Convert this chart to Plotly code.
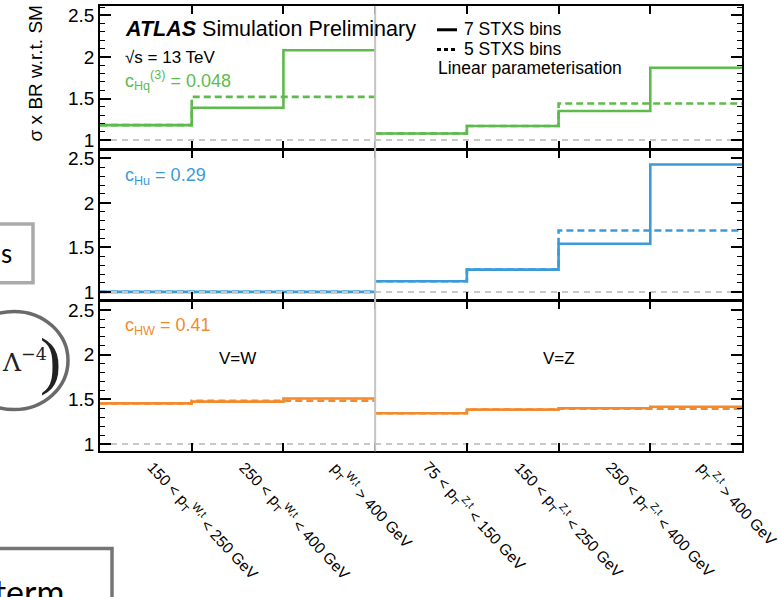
import plotly.graph_objects as go
from plotly.subplots import make_subplots

W, H = 778, 597
def X(px): return px / W
def Y(py): return 1 - py / H

# ---------------- data ----------------
bin_edges = [0, 1, 2, 3, 4, 5, 6, 7]
w_labels = ["150 < p<sub>T</sub><sup>W,t</sup> < 250 GeV",
            "250 < p<sub>T</sub><sup>W,t</sup> < 400 GeV",
            "p<sub>T</sub><sup>W,t</sup> > 400 GeV"]
z_labels = ["75 < p<sub>T</sub><sup>Z,t</sup> < 150 GeV",
            "150 < p<sub>T</sub><sup>Z,t</sup> < 250 GeV",
            "250 < p<sub>T</sub><sup>Z,t</sup> < 400 GeV",
            "p<sub>T</sub><sup>Z,t</sup> > 400 GeV"]

# cHq(3) = 0.048
hq3_w_7bins = [1.18, 1.39, 2.08]
hq3_w_5bins = [1.18, 1.52, 1.52]
hq3_z_7bins = [1.08, 1.17, 1.35, 1.87]
hq3_z_5bins = [1.08, 1.17, 1.44, 1.44]
# cHu = 0.29
hu_w_7bins = [1.0, 1.0, 1.0]
hu_w_5bins = [1.0, 1.0, 1.0]
hu_z_7bins = [1.12, 1.25, 1.54, 2.43]
hu_z_5bins = [1.12, 1.25, 1.69, 1.69]
# cHW = 0.41
hw_w_7bins = [1.455, 1.475, 1.51]
hw_w_5bins = [1.455, 1.485, 1.485]
hw_z_7bins = [1.345, 1.385, 1.40, 1.418]
hw_z_5bins = [1.345, 1.385, 1.395, 1.395]

sm_level = 1.0

LW = 1.5
panels = [
    dict(name="c<sub>Hq</sub><sup>(3)</sup> = 0.048", color="#5dbb4c",
         w7=hq3_w_7bins, w5=hq3_w_5bins, z7=hq3_z_7bins, z5=hq3_z_5bins,
         rng=[0.893, 2.613], dom=[Y(149 - LW / 2), Y(4)]),
    dict(name="c<sub>Hu</sub> = 0.29", color="#3b9bd9",
         w7=hu_w_7bins, w5=hu_w_5bins, z7=hu_z_7bins, z5=hu_z_5bins,
         rng=[0.912, 2.588], dom=[Y(301 - LW / 2), Y(149 + LW / 2)]),
    dict(name="c<sub>HW</sub> = 0.41", color="#f28a2e",
         w7=hw_w_7bins, w5=hw_w_5bins, z7=hw_z_7bins, z5=hw_z_5bins,
         rng=[0.919, 2.600], dom=[Y(453), Y(301 + LW / 2)]),
]

FONT = "Liberation Sans, Arial, Helvetica, sans-serif"

fig = make_subplots(rows=3, cols=1, shared_xaxes=True, vertical_spacing=0)

def step(vals):
    return vals + [vals[-1]]

for i, p in enumerate(panels, start=1):
    xw = bin_edges[0:4]
    xz = bin_edges[3:8]
    for xs, vals in ((xw, p["w7"]), (xz, p["z7"])):
        fig.add_trace(go.Scatter(x=xs, y=step(vals), mode="lines", line_shape="hv",
                                 line=dict(color=p["color"], width=2.6),
                                 showlegend=False, hoverinfo="skip"), row=i, col=1)
    for xs, vals in ((xw, p["w5"]), (xz, p["z5"])):
        fig.add_trace(go.Scatter(x=xs, y=step(vals), mode="lines", line_shape="hv",
                                 line=dict(color=p["color"], width=2.6, dash="7px,4px"),
                                 showlegend=False, hoverinfo="skip"), row=i, col=1)
    fig.add_trace(go.Scatter(x=[bin_edges[0], bin_edges[-1]], y=[sm_level, sm_level],
                             mode="lines", line=dict(color="#c8c8c8", width=2, dash="6px,5px"),
                             showlegend=False, hoverinfo="skip"), row=i, col=1)

axis_common = dict(showline=True, linecolor="black", linewidth=LW, mirror="ticks",
                   ticks="inside", tickcolor="black", tickwidth=1.5,
                   showgrid=False, zeroline=False)

for i, p in enumerate(panels, start=1):
    xa = "xaxis" if i == 1 else f"xaxis{i}"
    ya = "yaxis" if i == 1 else f"yaxis{i}"
    fig.layout[xa].update(range=[0, 7], domain=[X(100), X(742)],
                          tickvals=bin_edges[1:-1], ticklen=8,
                          showticklabels=False, **axis_common)
    fig.layout[ya].update(range=p["rng"], domain=p["dom"], dtick=0.5, tick0=0,
                          ticklen=11,
                          minor=dict(dtick=0.1, tick0=0, ticklen=5, ticks="inside",
                                     tickcolor="black", tickwidth=1.2),
                          tickfont=dict(size=19, color="black", family=FONT),
                          **axis_common)

ann = []
# y-axis title
ann.append(dict(text="σ x BR w.r.t. SM", xref="paper", yref="paper", x=X(35), y=Y(72),
                xanchor="center", yanchor="middle",
                textangle=-90, showarrow=False, font=dict(size=19, color="black", family=FONT)))
# ATLAS label
ann.append(dict(text="<b><i>ATLAS</i></b> Simulation Preliminary", xref="paper", yref="paper",
                x=X(123), y=Y(27), xanchor="left", yanchor="middle", showarrow=False,
                font=dict(size=21.5, color="black", family=FONT)))
ann.append(dict(text="√s = 13 TeV", xref="paper", yref="paper",
                x=X(123), y=Y(56), xanchor="left", yanchor="middle", showarrow=False,
                font=dict(size=17, color="black", family=FONT)))
# coefficient labels
coef_y = [79, 176, 327]
for p, cy in zip(panels, coef_y):
    ann.append(dict(text=p["name"], xref="paper", yref="paper", x=X(123), y=Y(cy),
                    xanchor="left", yanchor="middle", showarrow=False,
                    font=dict(size=18, color=p["color"], family=FONT)))
# legend
ann.append(dict(text="7 STXS bins", xref="paper", yref="paper", x=X(462), y=Y(27),
                xanchor="left", yanchor="middle", showarrow=False,
                font=dict(size=17.5, color="black", family=FONT)))
ann.append(dict(text="5 STXS bins", xref="paper", yref="paper", x=X(462), y=Y(47),
                xanchor="left", yanchor="middle", showarrow=False,
                font=dict(size=17.5, color="black", family=FONT)))
ann.append(dict(text="Linear parameterisation", xref="paper", yref="paper", x=X(436), y=Y(67),
                xanchor="left", yanchor="middle", showarrow=False,
                font=dict(size=17.5, color="black", family=FONT)))
# V=W / V=Z
ann.append(dict(text="V=W", xref="x3", yref="paper", x=1.5, y=Y(360), showarrow=False,
                xanchor="center", yanchor="middle",
                font=dict(size=17, color="black", family=FONT)))
ann.append(dict(text="V=Z", xref="x3", yref="paper", x=5.0, y=Y(360), showarrow=False,
                xanchor="center", yanchor="middle",
                font=dict(size=17, color="black", family=FONT)))
# rotated bin labels
for k, lab in enumerate(w_labels + z_labels):
    ann.append(dict(text=lab, xref="x3", yref="paper", x=k + 0.5, y=Y(456), xshift=-6,
                    xanchor="left", yanchor="top", textangle=47, showarrow=False,
                    font=dict(size=15.5, color="black", family=FONT)))
# slide fragments on the left
ann.append(dict(text="s", xref="paper", yref="paper", x=X(-1), y=Y(253),
                xanchor="left", yanchor="middle", showarrow=False,
                font=dict(size=26, color="black", family="Lato, sans-serif")))
ann.append(dict(text="Λ<sup>−4</sup>", xref="paper", yref="paper", x=X(0), y=Y(362),
                xanchor="left", yanchor="middle", showarrow=False,
                font=dict(size=25, color="#222", family="DejaVu Serif, serif")))
ann.append(dict(text=")", xref="paper", yref="paper", x=X(50), y=Y(362),
                xanchor="center", yanchor="middle", showarrow=False,
                font=dict(size=64, color="#222", family="Liberation Serif, serif")))
ann.append(dict(text="term", xref="paper", yref="paper", x=X(66), y=Y(572),
                xanchor="right", yanchor="top", showarrow=False,
                font=dict(size=34, color="black", family="Lato, sans-serif")))

shapes = []
# separator between V=W and V=Z
shapes.append(dict(type="line", xref="x3", yref="paper", x0=3, x1=3, y0=Y(453), y1=Y(4),
                   line=dict(color="#c4c4c4", width=2)))
# legend line samples
shapes.append(dict(type="line", xref="paper", yref="paper", x0=X(437), x1=X(457), y0=Y(28), y1=Y(28),
                   line=dict(color="black", width=3)))
shapes.append(dict(type="line", xref="paper", yref="paper", x0=X(437), x1=X(458), y0=Y(48), y1=Y(48),
                   line=dict(color="black", width=3, dash="4px,3px")))
# slide fragments
shapes.append(dict(type="rect", xref="paper", yref="paper", x0=X(-10), x1=X(33), y0=Y(283), y1=Y(224),
                   line=dict(color="#aaaaaa", width=3.5)))
shapes.append(dict(type="circle", xref="paper", yref="paper", x0=X(-40), x1=X(68), y0=Y(411), y1=Y(312),
                   line=dict(color="#6a6a6a", width=3.5)))
shapes.append(dict(type="rect", xref="paper", yref="paper", x0=X(-10), x1=X(112), y0=Y(640), y1=Y(551),
                   line=dict(color="#757575", width=3.5)))

fig.update_layout(width=W, height=H, margin=dict(l=0, r=0, t=0, b=0),
                  paper_bgcolor="white", plot_bgcolor="white",
                  annotations=ann, shapes=shapes, showlegend=False,
                  font=dict(family=FONT, color="black"))

fig.write_html("out.html")
